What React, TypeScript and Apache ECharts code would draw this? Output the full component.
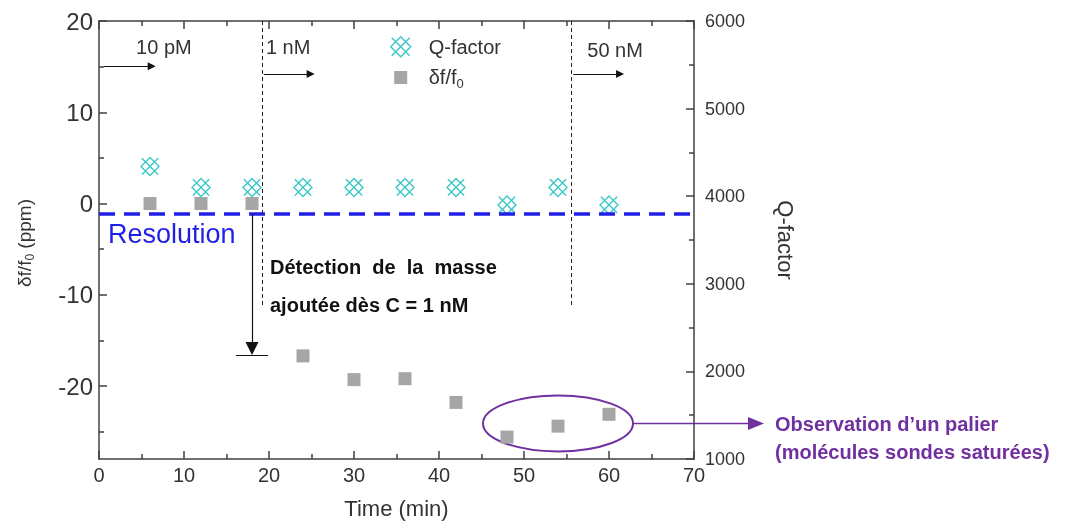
import React, { useEffect, useRef } from "react";
import * as echarts from "echarts";

// ---- data ----
const timeMin = [6, 12, 18, 24, 30, 36, 42, 48, 54, 60];
const dfValues = [0, 0, 0, -16.7, -19.3, -19.2, -21.8, -25.6, -24.4, -23.1];
const qValues = [4340, 4100, 4100, 4100, 4100, 4100, 4100, 3900, 4100, 3900];
const leftMajorTicks = [-20, -10, 0, 10, 20];
const leftMinorTicks = [-25, -15, -5, 5, 15];
const resolution = -1.1;
const concentrationSteps = [
  { label: "10 pM", x0: 0.6, x1: 6.2, y: 15.05, line: null as number | null },
  { label: "1 nM", x0: 19.4, x1: 24.9, y: 14.2, line: 19.2 },
  { label: "50 nM", x0: 55.8, x1: 61.3, y: 14.2, line: 55.6 },
];

const FONT = 'Arial, "Liberation Sans", sans-serif';
const AX = "#404040";
const TXT = "#333333";
const CYAN = "#3cc8c8";
const GRAY = "#a6a6a6";
const BLUE = "#1f1fe8";
const PURPLE = "#7030a0";

const Q_PATH = "path://M1,1L19,19M19,1L1,19M10,0L20,10L10,20L0,10Z";
const SQ_ICON = "path://M0,0L0.01,0M20,20L19.99,20M3.5,3.5L16.5,3.5L16.5,16.5L3.5,16.5Z";

export default function App() {
  const ref = useRef<HTMLDivElement>(null);
  useEffect(() => {
    const chart = echarts.init(ref.current!, null, { renderer: "svg" });
    const dashBlack = { color: "#222", width: 1, type: [4, 3] as any };
    const arrowLines: any[] = [];
    concentrationSteps.forEach((s) => {
      arrowLines.push([
        { coord: [s.x0, s.y], symbol: "none", lineStyle: { color: "#111", width: 1, type: "solid" } },
        { coord: [s.x1, s.y], symbol: "triangle", symbolSize: [8, 8] },
      ]);
      if (s.line !== null) {
        arrowLines.push([
          { coord: [s.line, 20], symbol: "none", lineStyle: dashBlack },
          { coord: [s.line, -11.2], symbol: "none" },
        ]);
      }
    });
    const option: any = {
      animation: false,
      textStyle: { fontFamily: FONT },
      grid: { left: 99, top: 21, right: 376, bottom: 64, containLabel: false },
      legend: {
        orient: "vertical",
        left: 385,
        top: 31,
        itemWidth: 20,
        itemHeight: 20,
        itemGap: 10,
        selectedMode: false,
        data: [
          { name: "Q-factor", icon: Q_PATH, itemStyle: { color: "rgba(0,0,0,0)", borderColor: CYAN, borderWidth: 1.4 } },
          { name: "df", icon: SQ_ICON, itemStyle: { color: GRAY } },
        ],
        formatter: (n: string) => (n === "df" ? "{t|δf/f}{s|0}" : "{t|Q-factor}"),
        textStyle: {
          color: TXT,
          fontSize: 20,
          rich: {
            t: { fontSize: 20, color: TXT, padding: [0, 0, 0, 13], fontFamily: FONT },
            s: { fontSize: 13, color: TXT, padding: [12, 0, 0, 0], fontFamily: FONT },
          },
        },
      },
      xAxis: [
        {
          type: "value",
          min: 0,
          max: 70,
          interval: 10,
          position: "bottom",
          axisLine: { show: true, onZero: false, lineStyle: { color: AX, width: 1.5 } },
          axisTick: { show: true, inside: true, length: 8, lineStyle: { color: AX, width: 1.5 } },
          minorTick: { show: true, splitNumber: 2, length: 5, lineStyle: { color: AX, width: 1.5 } },
          axisLabel: { color: TXT, fontSize: 20, margin: 6, fontFamily: FONT },
          splitLine: { show: false },
          name: "Time (min)",
          nameLocation: "middle",
          nameGap: 38,
          nameTextStyle: { fontSize: 22, color: TXT, fontFamily: FONT },
        },
        {
          type: "value",
          min: 0,
          max: 70,
          interval: 10,
          position: "top",
          axisLine: { show: true, onZero: false, lineStyle: { color: AX, width: 1.5 } },
          axisTick: { show: true, inside: true, length: 8, lineStyle: { color: AX, width: 1.5 } },
          minorTick: { show: true, splitNumber: 2, length: 5, lineStyle: { color: AX, width: 1.5 } },
          axisLabel: { show: false },
          splitLine: { show: false },
        },
      ],
      yAxis: [
        {
          type: "value",
          min: -28,
          max: 20,
          position: "left",
          axisLine: { show: true, onZero: false, lineStyle: { color: AX, width: 1.5 } },
          axisTick: { show: true, inside: true, length: 8, customValues: leftMajorTicks, lineStyle: { color: AX, width: 1.5 } },
          axisLabel: { color: TXT, fontSize: 24, margin: 6, customValues: leftMajorTicks, fontFamily: FONT },
          splitLine: { show: false },
        },
        {
          type: "value",
          min: 1000,
          max: 6000,
          interval: 1000,
          position: "right",
          axisLine: { show: true, onZero: false, lineStyle: { color: AX, width: 1.5 } },
          axisTick: { show: true, inside: true, length: 8, lineStyle: { color: AX, width: 1.5 } },
          minorTick: { show: true, splitNumber: 2, length: 5, lineStyle: { color: AX, width: 1.5 } },
          axisLabel: { color: TXT, fontSize: 18, margin: 11, fontFamily: FONT, formatter: (v: number) => String(v) },
          splitLine: { show: false },
          name: "Q-factor",
          nameLocation: "middle",
          nameRotate: -90,
          nameGap: 80,
          nameTextStyle: { fontSize: 22, color: TXT, fontFamily: FONT },
        },
        {
          type: "value",
          min: -28,
          max: 20,
          position: "left",
          axisLine: { show: false, onZero: false },
          axisTick: { show: true, inside: true, length: 5, customValues: leftMinorTicks, lineStyle: { color: AX, width: 1.5 } },
          axisLabel: { show: false },
          splitLine: { show: false },
        },
      ],
      series: [
        {
          name: "df",
          type: "scatter",
          xAxisIndex: 0,
          yAxisIndex: 0,
          symbol: "rect",
          symbolSize: 13,
          itemStyle: { color: GRAY, opacity: 1 },
          data: timeMin.map((t, i) => [t, dfValues[i]]),
          z: 3,
          markLine: {
            silent: true,
            animation: false,
            label: { show: false },
            symbol: ["none", "none"],
            data: [
              { yAxis: resolution, lineStyle: { color: BLUE, width: 3.5, type: [16, 9] } },
              ...arrowLines,
              [
                { coord: [18.0, -1.2], symbol: "none", lineStyle: { color: "#111", width: 1.2, type: "solid" } },
                { coord: [18.0, -15.9], symbol: "triangle", symbolSize: [13, 13] },
              ],
              [
                { coord: [16.1, -16.6], symbol: "none", lineStyle: { color: "#111", width: 1.2, type: "solid" } },
                { coord: [19.9, -16.6], symbol: "none" },
              ],
            ],
          },
        },
        {
          name: "Q-factor",
          type: "scatter",
          xAxisIndex: 0,
          yAxisIndex: 1,
          symbol: Q_PATH,
          symbolSize: [18, 18],
          itemStyle: { color: "rgba(0,0,0,0)", borderColor: CYAN, borderWidth: 1.4, opacity: 1 },
          data: timeMin.map((t, i) => [t, qValues[i]]),
          z: 4,
        },
      ],
    };
    chart.setOption(option);

    const px = (x: number, y: number) => chart.convertToPixel({ seriesIndex: 0 }, [x, y]) as number[];
    const c = px(54, -24.1);
    const rx = 75;
    const ry = 28;
    const tTxt = (text: string, x: number, y: number, extra: any = {}) => ({
      type: "text",
      x,
      y,
      silent: true,
      style: {
        text,
        fontFamily: FONT,
        fontSize: 20,
        fill: TXT,
        align: "left",
        verticalAlign: "middle",
        ...extra,
      },
    });
    const stepLabelPos = concentrationSteps.map((s) => px(s.x0, s.y));
    const graphic: any[] = [
      tTxt("10 pM", stepLabelPos[0][0] + 32, 47),
      tTxt("1 nM", stepLabelPos[1][0] + 2, 47),
      tTxt("50 nM", stepLabelPos[2][0] + 14, 50),
      tTxt("Resolution", 108, 234, { fontSize: 27, fill: BLUE }),
      tTxt("Détection\u00a0 de\u00a0 la\u00a0 masse", 270, 267, { fontSize: 20, fontWeight: "bold", fill: "#111" }),
      tTxt("ajoutée dès C = 1 nM", 270, 305, { fontSize: 20, fontWeight: "bold", fill: "#111" }),
      tTxt("Observation d\u2019un palier", 775, 424, { fontSize: 20, fontWeight: "bold", fill: PURPLE }),
      tTxt("(molécules sondes saturées)", 775, 452, { fontSize: 20, fontWeight: "bold", fill: PURPLE }),
      {
        type: "text",
        x: 24,
        y: 243,
        rotation: Math.PI / 2,
        silent: true,
        style: {
          text: "{t|δf/f}{s|0}{t| (ppm)}",
          align: "center",
          verticalAlign: "middle",
          rich: {
            t: { fontSize: 19, fill: TXT, fontFamily: FONT },
            s: { fontSize: 12, fill: TXT, fontFamily: FONT, padding: [12, 0, 0, 0] },
          },
        },
      },
      {
        type: "ellipse",
        silent: true,
        shape: { cx: c[0], cy: c[1], rx, ry },
        style: { fill: "none", stroke: PURPLE, lineWidth: 2 },
      },
      {
        type: "line",
        silent: true,
        shape: { x1: c[0] + rx, y1: c[1], x2: c[0] + rx + 118, y2: c[1] },
        style: { stroke: PURPLE, lineWidth: 1.5 },
      },
      {
        type: "polygon",
        silent: true,
        shape: {
          points: [
            [c[0] + rx + 115, c[1] - 6.5],
            [c[0] + rx + 131, c[1]],
            [c[0] + rx + 115, c[1] + 6.5],
          ],
        },
        style: { fill: PURPLE },
      },
    ];
    chart.setOption({ graphic });
    return () => chart.dispose();
  }, []);
  return <div ref={ref} style={{ position: "fixed", left: 0, top: 0, width: 1070, height: 524 }} />;
}
